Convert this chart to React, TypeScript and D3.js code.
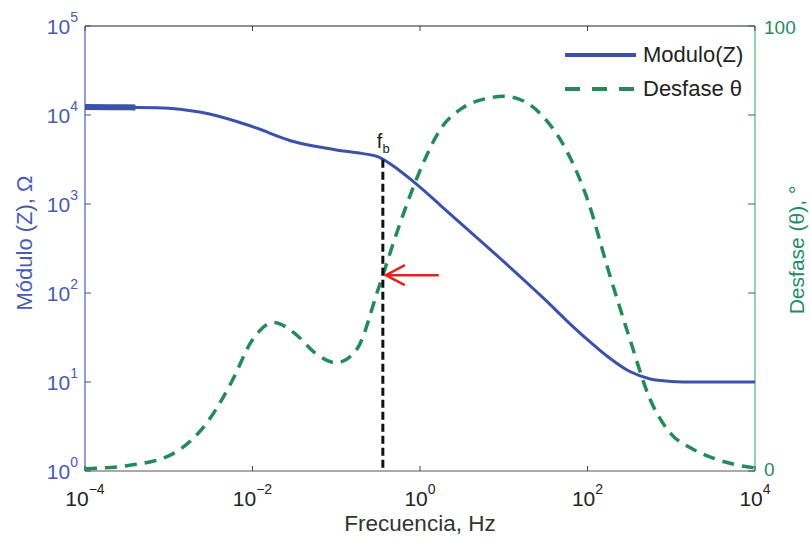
import * as d3 from "d3";

// Bode-style plot: impedance modulus (log) and phase (linear) vs frequency
const magFreq = [1e-4, 3.16e-4, 1e-3, 3.16e-3, 1e-2, 3.16e-2, 0.1, 0.178, 0.316, 0.562, 1, 1.78, 3.16, 10, 31.6, 56.2, 100, 178, 316, 562, 1000, 3160, 10000];
const magValue = [12300, 12200, 11900, 10200, 7400, 5000, 4050, 3760, 3390, 2400, 1550, 955, 590, 225, 83, 49, 29.9, 19, 13.2, 10.8, 10.15, 10.0, 10.0];

const phaseFreq = [1e-4, 3.16e-4, 1e-3, 3.16e-3, 5.62e-3, 1e-2, 1.78e-2, 3.16e-2, 5.62e-2, 0.1, 0.178, 0.316, 0.562, 1, 1.78, 3.16, 5.62, 10, 17.8, 31.6, 56.2, 100, 178, 316, 562, 1000, 1780, 3160, 5620, 10000];
const phaseValue = [0.5, 1.2, 3.4, 12, 20, 29.5, 33.4, 31, 26.5, 24.3, 27.5, 40.8, 55, 67.5, 77, 81.5, 83.5, 84.2, 83, 79, 72, 61, 45, 30, 16, 8.3, 5, 2.9, 1.5, 0.7];

const xTickExp = [-4, -2, 0, 2, 4];
const magTickExp = [0, 1, 2, 3, 4, 5];
const phaseTicks = [0, 100];
const fb = 0.36;

const W = 810;
const H = 540;
const m = { left: 85, right: 755, top: 26, bottom: 471 };

const blue = "#3c52a8";
const blueText = "#4a5cb0";
const green = "#248a58";
const greenText = "#1f8c66";
const font = "'Liberation Sans', Arial, sans-serif";

const sup = (e: number) => (e < 0 ? "\u2212" + Math.abs(e) : String(e));

export default function App() {
  const x = d3.scaleLog().domain([1e-4, 1e4]).range([m.left, m.right]);
  const yMag = d3.scaleLog().domain([1, 1e5]).range([m.bottom, m.top]);
  const yPh = d3.scaleLinear().domain([0, 100]).range([m.bottom, m.top]);

  const magLine = d3
    .line<number>()
    .x((_, i) => x(magFreq[i]))
    .y((d) => yMag(d))
    .curve(d3.curveCatmullRom.alpha(0.5));
  const phLine = d3
    .line<number>()
    .x((_, i) => x(phaseFreq[i]))
    .y((d) => yPh(d))
    .curve(d3.curveMonotoneX);

  // values at the break frequency (log-log interpolation)
  const magAt = d3.scaleLog().domain(magFreq).range(magValue.map(Math.log10));
  const phAt = d3.scaleLog().domain(phaseFreq).range(phaseValue);
  const fbX = x(fb);
  const fbMagY = yMag(10 ** magAt(fb));
  const fbPhY = yPh(phAt(fb));

  return (
    <svg width={W} height={H} style={{ position: "absolute", left: 0, top: 0, background: "#fff" }} fontFamily={font}>
      <defs>
        <clipPath id="thick">
          <rect x={x(1e-4)} y={m.top} width={x(4e-4) - x(1e-4)} height={m.bottom - m.top} />
        </clipPath>
      </defs>

      {/* frame */}
      <line x1={m.left} x2={m.right} y1={m.top} y2={m.top} stroke="#222" strokeWidth={1.2} />
      <line x1={m.left} x2={m.right} y1={m.bottom} y2={m.bottom} stroke="#555" strokeWidth={1.2} />
      <line x1={m.left} x2={m.left} y1={m.top} y2={m.bottom} stroke="#4b5fb3" strokeWidth={1.2} />
      <line x1={m.right} x2={m.right} y1={m.top} y2={m.bottom} stroke="#72c195" strokeWidth={1.5} />

      {/* x ticks */}
      {xTickExp.map((e) => (
        <g key={"x" + e}>
          <line x1={x(10 ** e)} x2={x(10 ** e)} y1={m.bottom} y2={m.bottom - 5} stroke="#444" />
          <line x1={x(10 ** e)} x2={x(10 ** e)} y1={m.top} y2={m.top + 5} stroke="#444" />
          <text x={x(10 ** e)} y={506} textAnchor="middle" fontSize={21} fill="#222">
            10<tspan dy={-12} fontSize={14}>{sup(e)}</tspan>
          </text>
        </g>
      ))}

      {/* left ticks */}
      {magTickExp.map((e) => (
        <g key={"y" + e}>
          <line x1={m.left} x2={m.left + 6} y1={yMag(10 ** e)} y2={yMag(10 ** e)} stroke={blue} />
          <line x1={m.right} x2={m.right - 7} y1={yMag(10 ** e)} y2={yMag(10 ** e)} stroke={blue} />
          <text x={78} y={yMag(10 ** e) + 8} textAnchor="end" fontSize={21} fill={blueText}>
            10<tspan dy={-12} fontSize={14}>{sup(e)}</tspan>
          </text>
        </g>
      ))}

      {/* right ticks */}
      {phaseTicks.map((t) => (
        <text key={"p" + t} x={764} y={yPh(t) + (t === 0 ? 5 : 8)} fontSize={19} fill={greenText}>
          {t}
        </text>
      ))}

      {/* axis titles */}
      <text x={420} y={531} textAnchor="middle" fontSize={22.5} fill="#333">
        Frecuencia, Hz
      </text>
      <text transform={`translate(32,243) rotate(-90)`} textAnchor="middle" fontSize={22} fill={blueText}>
        Módulo (Z), Ω
      </text>
      <text transform={`translate(804,250) rotate(-90)`} textAnchor="middle" fontSize={21} fill={greenText}>
        Desfase (θ), °
      </text>

      {/* curves */}
      <path d={phLine(phaseValue) ?? ""} fill="none" stroke={green} strokeWidth={3.5} strokeDasharray="12 8" />
      <path d={magLine(magValue) ?? ""} fill="none" stroke={blue} strokeWidth={3} />
      <path d={magLine(magValue) ?? ""} fill="none" stroke={blue} strokeWidth={6} clipPath="url(#thick)" />

      {/* break frequency marker */}
      <line x1={fbX} x2={fbX} y1={fbMagY} y2={m.bottom} stroke="#111" strokeWidth={3} strokeDasharray="8 4" />
      <text x={fbX - 6} y={fbMagY - 12} fontSize={20} fill="#222">
        f<tspan dy={5} fontSize={13}>b</tspan>
      </text>
      <g stroke="#e8211f" strokeWidth={2.5} fill="none">
        <line x1={fbX + 3} x2={fbX + 56} y1={fbPhY} y2={fbPhY} />
        <polyline points={`${fbX + 22},${fbPhY - 10} ${fbX + 3},${fbPhY} ${fbX + 22},${fbPhY + 10}`} />
      </g>

      {/* legend */}
      <line x1={565} x2={636} y1={55} y2={55} stroke={blue} strokeWidth={4} />
      <text x={643} y={62} fontSize={22} fill="#222">
        Modulo(Z)
      </text>
      <line x1={565} x2={636} y1={89} y2={89} stroke={green} strokeWidth={4} strokeDasharray="15 12" />
      <text x={643} y={96} fontSize={22} fill="#222">
        Desfase θ
      </text>
    </svg>
  );
}
